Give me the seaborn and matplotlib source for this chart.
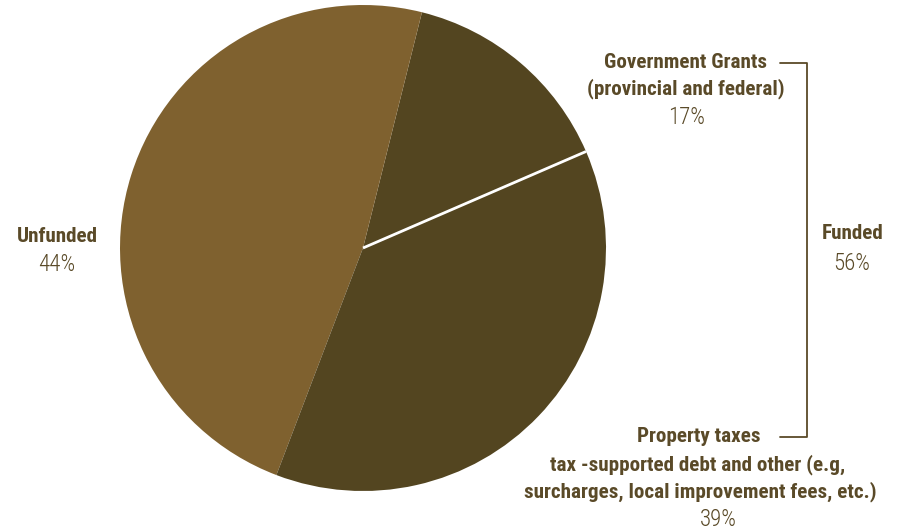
import matplotlib
matplotlib.use("Agg")
import matplotlib.pyplot as plt
import seaborn as sns
import numpy as np

# Data (slice sizes; labels as printed)
categories = ["Government Grants", "Unfunded", "Property taxes"]
slice_values = [14.6, 48.1, 37.3]
pct_labels = ["17%", "44%", "39%"]
funded_label = "Funded"
funded_pct = "56%"

sns.set_theme(style="white")
plt.rcParams["font.family"] = ["Roboto Condensed", "Liberation Sans Narrow", "DejaVu Sans"]

DARK = "#534520"
LIGHT = "#7f612f"
TXT = "#5a4a28"
colors = [DARK, LIGHT, DARK]

W, H = 901, 531
fig = plt.figure(figsize=(W / 100, H / 100), dpi=100)
fig.patch.set_facecolor("white")

cx, cy, r = 363, 248, 243
ax = fig.add_axes([(cx - r) / W, (H - cy - r) / H, 2 * r / W, 2 * r / H])
wedges, _ = ax.pie(slice_values, colors=colors, startangle=23.4, counterclock=True,
                   wedgeprops=dict(linewidth=0, antialiased=True))
ax.set_xlim(-1, 1)
ax.set_ylim(-1, 1)
ax.set_aspect("equal")
ax.axis("off")

# white separator between the two funded slices (at the start angle of the grants wedge)
th = np.deg2rad(wedges[0].theta1)
ax.plot([0, np.cos(th)], [0, np.sin(th)], color="white", lw=2, solid_capstyle="butt")

def T(x, y, s, bold=True):
    fig.text(x / W, 1 - y / H, s, ha="center", va="center", color=TXT,
             fontsize=15.2 if bold else 16.5,
             fontweight="bold" if bold else "light",
             fontstretch="condensed")

# Government grants
T(686, 62, "Government Grants")
T(686, 89, "(provincial and federal)")
T(686, 117, pct_labels[0], bold=False)

# Unfunded
T(57, 236, categories[1])
T(57, 264, pct_labels[1], bold=False)

# Property taxes
T(699, 437, "Property taxes")
T(698, 465, "tax -supported debt and other (e.g,")
T(700, 492, "surcharges, local improvement fees, etc.)")
T(718, 519, pct_labels[2], bold=False)

# Funded
T(853, 234, funded_label)
T(852, 263, funded_pct, bold=False)

# bracket
lx = fig.add_axes([0, 0, 1, 1], facecolor="none")
lx.set_xlim(0, W)
lx.set_ylim(H, 0)
lx.axis("off")
lx.plot([780, 807, 807, 780], [62.5, 62.5, 437, 437], color=TXT, lw=1.3)

fig.savefig("out.png", dpi=100, facecolor="white")
